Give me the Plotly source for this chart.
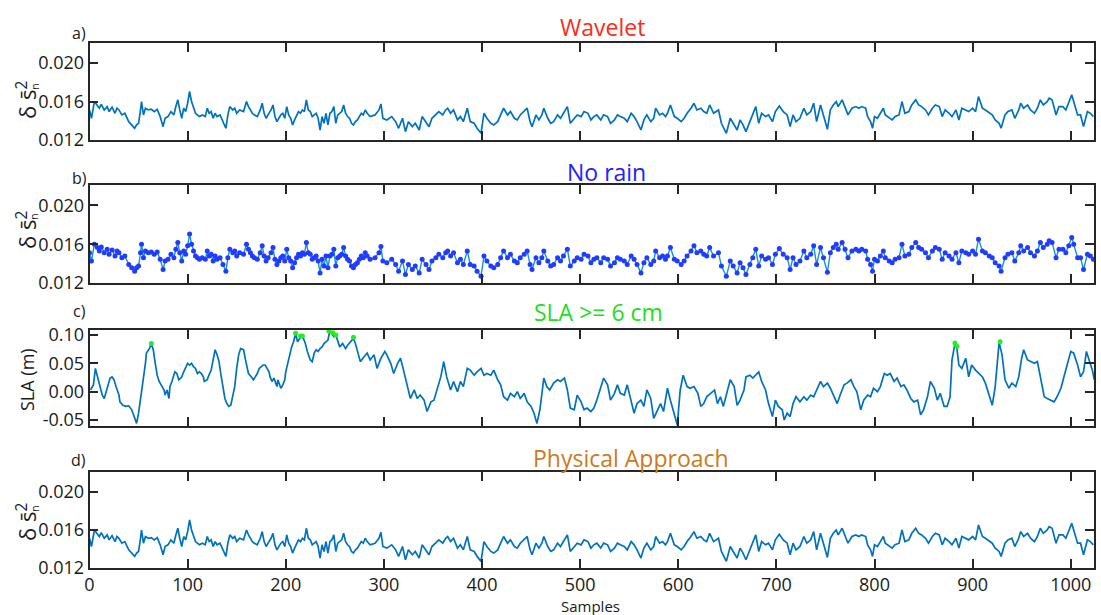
import plotly.graph_objects as go

# ---------------- data ----------------
SAMPLES_DS = [0, 2, 5, 8, 10, 12, 15, 18, 20, 23, 26, 28, 30, 33, 36, 40, 43, 46, 48, 50,
              52, 53, 55, 57, 60, 63, 66, 69, 72, 75, 77, 80, 83, 86, 88, 90, 92, 94, 96, 98,
              100, 102, 104, 106, 108, 110, 112, 115, 118, 120, 122, 124, 126, 128, 130, 133, 136, 139, 141, 143,
              146, 148, 150, 153, 157, 160, 162, 164, 166, 168, 171, 174, 176, 178, 180, 182, 185, 187, 189, 191,
              193, 195, 197, 199, 201, 203, 205, 207, 209, 211, 213, 215, 217, 219, 221, 223, 225, 227, 229, 231,
              233, 235, 237, 239, 241, 243, 245, 247, 249, 251, 253, 255, 257, 259, 261, 263, 265, 267, 269, 271,
              273, 275, 277, 279, 281, 283, 286, 291, 295, 297, 299, 303, 308, 312, 315, 319, 322, 325, 329, 332,
              336, 339, 343, 346, 349, 353, 356, 360, 363, 365, 368, 371, 375, 378, 381, 385, 388, 392, 395, 399,
              402, 405, 409, 412, 416, 419, 422, 426, 429, 433, 436, 439, 443, 446, 449, 451, 455, 458, 461, 463,
              467, 470, 473, 477, 480, 483, 487, 490, 494, 497, 501, 504, 508, 511, 514, 517, 521, 524, 528, 531,
              535, 538, 541, 545, 548, 552, 555, 558, 562, 565, 568, 572, 575, 577, 581, 584, 587, 589, 592, 596,
              599, 603, 606, 609, 613, 616, 619, 623, 626, 629, 632, 636, 641, 644, 649, 653, 656, 660, 663, 666,
              669, 673, 676, 679, 682, 685, 689, 692, 696, 699, 703, 707, 711, 714, 717, 720, 724, 728, 731, 735,
              738, 741, 745, 748, 752, 755, 758, 761, 763, 767, 770, 773, 777, 781, 784, 787, 791, 793, 796, 798,
              800, 803, 806, 809, 811, 815, 818, 821, 825, 828, 831, 835, 838, 842, 845, 848, 852, 855, 859, 862,
              866, 869, 872, 876, 879, 883, 886, 889, 893, 896, 900, 903, 906, 910, 913, 917, 920, 923, 927, 929,
              933, 936, 940, 943, 947, 949, 952, 956, 959, 963, 966, 969, 972, 976, 978, 981, 985, 988, 992, 995,
              998, 1001, 1003, 1007, 1010, 1013, 1017, 1020, 1023]

DS2 = [0.01513, 0.01426, 0.01600, 0.01565, 0.01531, 0.01572, 0.01513, 0.01548, 0.01496, 0.01541,
       0.01478, 0.01531, 0.01513, 0.01461, 0.01478, 0.01391, 0.01357, 0.01322, 0.01357, 0.01374,
       0.01513, 0.01600, 0.01461, 0.01531, 0.01513, 0.01520, 0.01496, 0.01520, 0.01444, 0.01339,
       0.01426, 0.01444, 0.01496, 0.01461, 0.01548, 0.01618, 0.01513, 0.01426, 0.01531, 0.01496,
       0.01583, 0.01705, 0.01600, 0.01531, 0.01478, 0.01461, 0.01444, 0.01461, 0.01444, 0.01531,
       0.01478, 0.01496, 0.01426, 0.01478, 0.01444, 0.01461, 0.01391, 0.01322, 0.01461, 0.01548,
       0.01513, 0.01531, 0.01478, 0.01513, 0.01496, 0.01600, 0.01548, 0.01513, 0.01478, 0.01461,
       0.01444, 0.01513, 0.01583, 0.01478, 0.01426, 0.01461, 0.01513, 0.01565, 0.01444, 0.01391,
       0.01426, 0.01461, 0.01478, 0.01426, 0.01548, 0.01461, 0.01426, 0.01357, 0.01409, 0.01461,
       0.01496, 0.01478, 0.01513, 0.01496, 0.01618, 0.01513, 0.01496, 0.01444, 0.01461, 0.01478,
       0.01426, 0.01304, 0.01444, 0.01374, 0.01478, 0.01357, 0.01478, 0.01496, 0.01548, 0.01374,
       0.01461, 0.01478, 0.01496, 0.01565, 0.01478, 0.01444, 0.01426, 0.01374, 0.01357, 0.01391,
       0.01409, 0.01444, 0.01478, 0.01461, 0.01513, 0.01478, 0.01444, 0.01461, 0.01513, 0.01576,
       0.01426, 0.01409, 0.01444, 0.01391, 0.01322, 0.01426, 0.01287, 0.01391, 0.01339, 0.01374,
       0.01304, 0.01444, 0.01391, 0.01339, 0.01426, 0.01461, 0.01496, 0.01461, 0.01513, 0.01531,
       0.01478, 0.01513, 0.01409, 0.01444, 0.01391, 0.01531, 0.01391, 0.01374, 0.01322, 0.01270,
       0.01478, 0.01426, 0.01374, 0.01357, 0.01391, 0.01461, 0.01531, 0.01461, 0.01496, 0.01426,
       0.01409, 0.01461, 0.01496, 0.01531, 0.01391, 0.01339, 0.01461, 0.01409, 0.01461, 0.01531,
       0.01426, 0.01374, 0.01391, 0.01461, 0.01426, 0.01478, 0.01548, 0.01374, 0.01426, 0.01461,
       0.01444, 0.01496, 0.01478, 0.01409, 0.01444, 0.01461, 0.01409, 0.01461, 0.01444, 0.01374,
       0.01409, 0.01461, 0.01444, 0.01426, 0.01391, 0.01478, 0.01444, 0.01391, 0.01304, 0.01409,
       0.01461, 0.01391, 0.01426, 0.01531, 0.01461, 0.01478, 0.01444, 0.01478, 0.01565, 0.01444,
       0.01426, 0.01391, 0.01426, 0.01478, 0.01531, 0.01583, 0.01513, 0.01531, 0.01496, 0.01478,
       0.01565, 0.01478, 0.01513, 0.01374, 0.01270, 0.01426, 0.01374, 0.01304, 0.01409, 0.01357,
       0.01287, 0.01391, 0.01461, 0.01548, 0.01374, 0.01478, 0.01444, 0.01461, 0.01391, 0.01496,
       0.01555, 0.01496, 0.01461, 0.01339, 0.01461, 0.01391, 0.01426, 0.01531, 0.01461, 0.01496,
       0.01583, 0.01391, 0.01565, 0.01461, 0.01311, 0.01513, 0.01565, 0.01600, 0.01548, 0.01618,
       0.01548, 0.01461, 0.01531, 0.01548, 0.01531, 0.01548, 0.01531, 0.01444, 0.01391, 0.01322,
       0.01444, 0.01426, 0.01478, 0.01531, 0.01461, 0.01426, 0.01409, 0.01444, 0.01461, 0.01600,
       0.01478, 0.01496, 0.01565, 0.01618, 0.01565, 0.01548, 0.01513, 0.01461, 0.01531, 0.01565,
       0.01548, 0.01444, 0.01513, 0.01478, 0.01444, 0.01513, 0.01409, 0.01531, 0.01513, 0.01496,
       0.01531, 0.01496, 0.01652, 0.01531, 0.01513, 0.01478, 0.01461, 0.01409, 0.01374, 0.01322,
       0.01461, 0.01496, 0.01513, 0.01426, 0.01513, 0.01583, 0.01531, 0.01565, 0.01513, 0.01478,
       0.01531, 0.01618, 0.01565, 0.01600, 0.01635, 0.01618, 0.01461, 0.01548, 0.01548, 0.01513,
       0.01583, 0.01670, 0.01600, 0.01461, 0.01461, 0.01339, 0.01496, 0.01478, 0.01444]

SAMPLES_SLA = [1, 4, 6, 8, 11, 13, 15, 17, 19, 21, 23, 25, 27, 30, 31, 34, 37, 40, 43, 45,
               47, 48, 50, 52, 54, 57, 58, 61, 63, 65, 67, 69, 71, 74, 76, 77, 79, 81, 82, 84,
               86, 87, 89, 91, 93, 94, 96, 98, 100, 102, 104, 106, 108, 110, 112, 114, 116, 117, 120, 121,
               124, 126, 128, 130, 132, 134, 136, 138, 140, 142, 144, 145, 148, 150, 152, 154, 157, 159, 161, 162,
               165, 167, 169, 171, 173, 175, 177, 179, 180, 183, 184, 186, 188, 191, 192, 195, 197, 199, 200, 202,
               204, 206, 208, 210, 212, 214, 216, 218, 220, 222, 225, 227, 229, 231, 233, 235, 237, 239, 241, 243,
               245, 247, 249, 251, 253, 255, 258, 259, 261, 263, 266, 269, 271, 274, 276, 280, 283, 286, 290, 293,
               297, 301, 303, 307, 310, 314, 317, 320, 324, 327, 331, 334, 337, 341, 344, 348, 351, 354, 358, 361,
               364, 368, 371, 375, 378, 381, 385, 388, 392, 395, 399, 402, 405, 409, 412, 416, 419, 422, 426, 429,
               433, 436, 439, 443, 446, 450, 453, 456, 459, 463, 466, 469, 473, 477, 480, 484, 487, 490, 494, 497,
               501, 504, 507, 511, 514, 517, 521, 524, 528, 531, 535, 538, 541, 545, 548, 551, 555, 558, 562, 565,
               568, 572, 575, 579, 582, 585, 589, 592, 595, 599, 602, 605, 609, 612, 616, 620, 623, 626, 629, 633,
               637, 640, 643, 646, 650, 653, 657, 660, 663, 667, 669, 673, 676, 680, 682, 685, 689, 692, 696, 699,
               702, 706, 708, 711, 714, 717, 720, 724, 728, 731, 735, 738, 742, 745, 748, 752, 755, 759, 762, 765,
               769, 772, 776, 779, 782, 786, 789, 793, 796, 799, 803, 806, 810, 813, 816, 820, 823, 827, 830, 833,
               837, 840, 844, 847, 850, 854, 857, 861, 864, 867, 871, 874, 877, 879, 882, 884, 886, 889, 893, 896,
               899, 903, 906, 910, 913, 916, 920, 923, 926, 927, 930, 933, 937, 940, 944, 947, 950, 952, 956, 959,
               963, 966, 969, 973, 976, 980, 983, 986, 990, 993, 996, 1000, 1003, 1007, 1010, 1013, 1016, 1018, 1022, 1024]

SLA = [0.003, 0.012, 0.041, 0.026, 0.006, -0.006, -0.012, 0.000, 0.012, 0.024,
       0.026, 0.021, 0.009, -0.006, -0.018, -0.024, -0.026, -0.025, -0.032, -0.041,
       -0.050, -0.056, -0.038, -0.015, 0.015, 0.050, 0.068, 0.076, 0.085, 0.074,
       0.050, 0.029, 0.018, 0.009, 0.003, -0.006, 0.003, -0.012, 0.009, 0.018,
       0.029, 0.035, 0.032, 0.021, 0.024, 0.026, 0.035, 0.044, 0.050, 0.047,
       0.050, 0.044, 0.041, 0.032, 0.035, 0.032, 0.026, 0.018, 0.021, 0.026,
       0.038, 0.056, 0.074, 0.065, 0.053, 0.029, 0.009, -0.012, -0.021, -0.026,
       -0.024, -0.015, 0.009, 0.041, 0.065, 0.076, 0.074, 0.056, 0.041, 0.032,
       0.026, 0.021, 0.026, 0.032, 0.041, 0.044, 0.047, 0.047, 0.044, 0.035,
       0.026, 0.018, 0.024, 0.009, 0.021, 0.006, 0.012, 0.021, 0.035, 0.050,
       0.068, 0.079, 0.088, 0.103, 0.088, 0.094, 0.098, 0.094, 0.085, 0.071,
       0.056, 0.053, 0.068, 0.074, 0.071, 0.076, 0.079, 0.085, 0.088, 0.091,
       0.108, 0.103, 0.097, 0.100, 0.088, 0.079, 0.085, 0.082, 0.076, 0.082,
       0.088, 0.094, 0.085, 0.065, 0.053, 0.062, 0.068, 0.056, 0.065, 0.041,
       0.059, 0.071, 0.065, 0.050, 0.032, 0.050, 0.059, 0.038, 0.006, -0.012,
       0.003, -0.012, -0.006, -0.015, -0.035, -0.018, -0.015, 0.003, 0.026, 0.053,
       0.026, 0.003, 0.018, 0.000, 0.018, 0.009, 0.041, 0.038, 0.029, 0.035,
       0.041, 0.029, 0.032, 0.029, 0.038, 0.021, 0.012, -0.009, -0.015, -0.003,
       -0.009, 0.000, -0.012, -0.003, -0.018, -0.026, -0.038, -0.056, -0.032, 0.024,
       0.009, 0.003, 0.015, 0.021, 0.018, 0.024, 0.003, -0.029, -0.032, -0.006,
       -0.018, -0.032, -0.029, -0.035, -0.029, -0.015, 0.006, 0.024, 0.012, -0.015,
       -0.003, 0.012, -0.003, -0.006, 0.012, -0.012, -0.038, -0.021, -0.015, -0.026,
       0.003, -0.012, -0.047, -0.032, -0.021, -0.035, 0.006, -0.015, -0.032, -0.059,
       0.003, 0.029, 0.009, 0.006, 0.009, -0.003, -0.026, -0.021, -0.009, -0.003,
       0.003, -0.021, -0.009, -0.026, 0.000, 0.021, 0.009, -0.024, -0.015, 0.003,
       0.026, 0.029, 0.024, 0.032, 0.035, 0.018, 0.003, -0.021, -0.044, -0.015,
       -0.026, -0.032, -0.050, -0.038, -0.044, -0.021, -0.009, -0.018, -0.009, -0.015,
       -0.006, -0.009, 0.006, 0.018, 0.009, 0.015, 0.006, -0.009, -0.021, -0.006,
       0.012, 0.015, 0.021, 0.009, 0.000, -0.032, -0.015, -0.006, -0.009, 0.006,
       0.000, 0.009, 0.032, 0.029, 0.032, 0.018, 0.024, 0.009, 0.012, 0.003,
       -0.012, -0.018, -0.015, -0.041, -0.032, -0.009, 0.018, 0.006, -0.015, -0.003,
       -0.026, -0.026, -0.009, 0.056, 0.085, 0.076, 0.047, 0.041, 0.059, 0.026,
       0.047, 0.038, 0.032, 0.026, 0.015, 0.000, -0.024, 0.009, 0.068, 0.087,
       0.065, 0.021, 0.006, 0.015, 0.009, 0.026, 0.059, 0.074, 0.056, 0.053,
       0.050, 0.053, 0.029, -0.009, -0.012, -0.015, -0.018, -0.009, 0.006, 0.026,
       0.044, 0.071, 0.068, 0.047, 0.026, 0.035, 0.071, 0.059, 0.038, 0.021]

GREEN_SAMPLES = [63, 210, 215, 217, 244, 246, 248, 251, 269, 882, 884, 928]
GREEN_SLA = [0.085, 0.103, 0.098, 0.098, 0.107, 0.110, 0.104, 0.100, 0.096, 0.086, 0.080, 0.088]

PANEL_TITLES = ["Wavelet", "No rain", "SLA >= 6 cm", "Physical Approach"]
PANEL_LETTERS = ["a)", "b)", "c)", "d)"]
X_TICKS = list(range(0, 1001, 100))
DS_TICKS = [0.012, 0.016, 0.020]
DS_TICK_TEXT = ["0.012", "0.016", "0.020"]
SLA_TICKS = [-0.05, 0.0, 0.05, 0.10]
SLA_TICK_TEXT = ["-0.05", "0.00", "0.05", "0.10"]

# ---------------- styling / layout ----------------
W, H = 1101, 615
FONT = "Open Sans"
TXT = "#1a1a1a"
AX = "#262626"
LINE = "#0072BD"

def fx(p):
    return p / W

def fy(p):
    return 1 - p / H

X0, X1 = 89.5, 1094
PANELS = [(43, 140), (185, 283), (330, 426), (472, 568)]  # top, bottom px

fig = go.Figure()

fig.add_trace(go.Scatter(x=SAMPLES_DS, y=DS2, mode="lines",
                         line=dict(color=LINE, width=1.7), xaxis="x", yaxis="y",
                         showlegend=False, hoverinfo="skip"))
fig.add_trace(go.Scatter(x=SAMPLES_DS, y=DS2, mode="lines+markers",
                         line=dict(color="#1a90d0", width=1.4),
                         marker=dict(color="#1f3cff", size=5),
                         xaxis="x2", yaxis="y2", showlegend=False, hoverinfo="skip"))
fig.add_trace(go.Scatter(x=SAMPLES_SLA, y=SLA, mode="lines",
                         line=dict(color=LINE, width=1.7), xaxis="x3", yaxis="y3",
                         showlegend=False, hoverinfo="skip"))
fig.add_trace(go.Scatter(x=GREEN_SAMPLES, y=GREEN_SLA, mode="markers",
                         marker=dict(color="#22ee22", size=5), xaxis="x3", yaxis="y3",
                         showlegend=False, hoverinfo="skip", cliponaxis=False))
fig.add_trace(go.Scatter(x=SAMPLES_DS, y=DS2, mode="lines",
                         line=dict(color=LINE, width=1.7), xaxis="x4", yaxis="y4",
                         showlegend=False, hoverinfo="skip"))

common_x = dict(range=[0, 1023.7], tickvals=X_TICKS, ticks="inside", ticklen=9,
                tickwidth=1.6, tickcolor=AX, showline=True, linecolor=AX, linewidth=1.6,
                mirror="ticks", showgrid=False, zeroline=False, automargin=False,
                tickfont=dict(family=FONT, size=18, color=TXT))
common_y = dict(ticks="inside", ticklen=9, tickwidth=1.6, tickcolor=AX, showline=True,
                linecolor=AX, linewidth=1.6, mirror="ticks", showgrid=False, zeroline=False,
                automargin=False, tickfont=dict(family=FONT, size=18, color=TXT))

layout = dict(width=W, height=H, autosize=False,
              margin=dict(l=0, r=0, t=0, b=0, pad=0, autoexpand=False),
              paper_bgcolor="white", plot_bgcolor="white",
              font=dict(family=FONT, color=TXT))
for i, (top, bot) in enumerate(PANELS):
    k = "" if i == 0 else str(i + 1)
    xa = dict(common_x, domain=[fx(X0), fx(X1)], anchor="y" + k,
              showticklabels=(i == 3))
    ya = dict(common_y, domain=[fy(bot), fy(top)], anchor="x" + k)
    if i == 2:
        ya.update(range=[-0.0606, 0.1088], tickvals=SLA_TICKS, ticktext=SLA_TICK_TEXT)
    else:
        ya.update(range=[0.012, 0.0221], tickvals=DS_TICKS, ticktext=DS_TICK_TEXT)
    layout["xaxis" + k] = xa
    layout["yaxis" + k] = ya
fig.update_layout(**layout)

ann = []
title_pos = [(602, 27), (606, 172), (598, 312), (631, 458)]
title_col = ["#ff2a1a", "#2222ff", "#22dd22", "#cc7a22"]
for t, (x, y), c in zip(PANEL_TITLES, title_pos, title_col):
    ann.append(dict(text=t, x=fx(x), y=fy(y), xref="paper", yref="paper",
                    xanchor="center", yanchor="middle", showarrow=False,
                    font=dict(family=FONT, size=23, color=c)))
letter_pos = [(79, 33), (79, 178), (79, 311), (78, 460)]
for t, (x, y) in zip(PANEL_LETTERS, letter_pos):
    ann.append(dict(text=t, x=fx(x), y=fy(y), xref="paper", yref="paper",
                    xanchor="center", yanchor="middle", showarrow=False,
                    font=dict(family=FONT, size=16, color=TXT)))
# y-axis labels
for yc in (100, 230, 522):
    ann.append(dict(text="δ s\u0304<sup>2</sup>", x=fx(26), y=fy(yc), xref="paper", yref="paper",
                    xanchor="center", yanchor="middle", textangle=-90, showarrow=False,
                    font=dict(family=FONT, size=22, color=TXT)))
    ann.append(dict(text="n", x=fx(34), y=fy(yc - 13), xref="paper", yref="paper",
                    xanchor="center", yanchor="middle", textangle=-90, showarrow=False,
                    font=dict(family=FONT, size=11, color=TXT)))
ann.append(dict(text="SLA (m)", x=fx(27), y=fy(380), xref="paper", yref="paper",
                xanchor="center", yanchor="middle", textangle=-90, showarrow=False,
                font=dict(family=FONT, size=18, color=TXT)))
ann.append(dict(text="Samples", x=fx(590), y=fy(606), xref="paper", yref="paper",
                xanchor="center", yanchor="middle", showarrow=False,
                font=dict(family=FONT, size=15, color=TXT)))
fig.update_layout(annotations=ann)

fig.write_html("out.html", config={"displayModeBar": False})
